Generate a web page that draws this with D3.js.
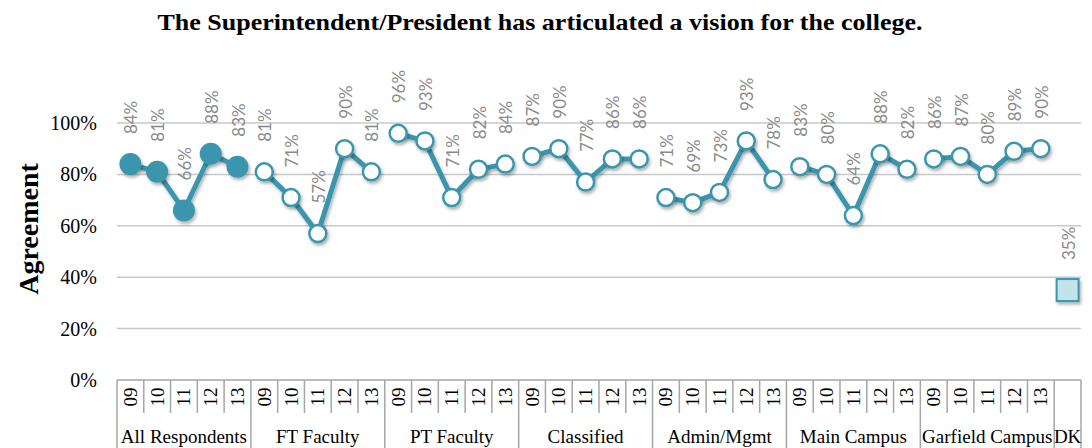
<!DOCTYPE html>
<html><head><meta charset="utf-8">
<script src="https://cdn.jsdelivr.net/npm/d3@7"></script>
<style>body{margin:0;background:#fff}svg{display:block}</style>
</head><body><svg id="c" width="1092" height="448"></svg>
<script>
const title = "The Superintendent/President has articulated a vision for the college.";
const groups = ["All Respondents","FT Faculty","PT Faculty","Classified","Admin/Mgmt","Main Campus","Garfield Campus"];
const years = ["09","10","11","12","13"];
const allRespondents = [84,81,66,88,83];
const ftFaculty = [81,71,57,90,81];
const ptFaculty = [96,93,71,82,84];
const classified = [87,90,77,86,86];
const adminMgmt = [71,69,73,93,78];
const mainCampus = [83,80,64,88,82];
const garfieldCampus = [86,87,80,89,90];
const dkLabel = "DK";
const dkValue = [35];
const yTicks = [0,20,40,60,80,100];

const series = [allRespondents, ftFaculty, ptFaculty, classified, adminMgmt, mainCampus, garfieldCampus];
const cats = [];
groups.forEach((g,gi)=>years.forEach((yr,yi)=>cats.push({g:gi,yr,v:series[gi][yi],i:cats.length})));
const dkIndex = cats.length;
const nCats = cats.length + 1;

const svg = d3.select("#c");
const L = 117, R = 1081, T = 123, B = 380;
const x = d3.scaleBand().domain(d3.range(nCats)).range([L,R]).padding(0);
const y = d3.scaleLinear().domain([0,100]).range([B,T]);
const teal = "#3a96ad", grid = "#c8c8c8", axisC = "#a6a6a6";
const serif = "Liberation Serif";

const defs = svg.append("defs");
const f = defs.append("filter").attr("id","sh").attr("x","-50%").attr("y","-50%").attr("width","200%").attr("height","200%");
f.append("feDropShadow").attr("dx",1.5).attr("dy",2.5).attr("stdDeviation",1.8).attr("flood-color","#000").attr("flood-opacity",0.3);

// title
svg.append("text").attr("x",540).attr("y",30).attr("text-anchor","middle")
  .attr("font-family",serif).attr("font-weight","bold").attr("font-size",23)
  .attr("textLength",765).attr("lengthAdjust","spacingAndGlyphs").text(title);

// gridlines
svg.append("g").selectAll("line").data(yTicks.filter(t=>t>0)).join("line")
  .attr("x1",L).attr("x2",R).attr("y1",d=>y(d)).attr("y2",d=>y(d))
  .attr("stroke",grid).attr("stroke-width",1.5);

// y axis labels
svg.append("g").selectAll("text").data(yTicks).join("text")
  .attr("x",97).attr("y",d=>y(d)+7).attr("text-anchor","end")
  .attr("font-family",serif).attr("font-size",20).attr("fill","#000")
  .text(d=>d+"%");

// y title
svg.append("text").attr("transform","translate(38,229) rotate(-90)").attr("text-anchor","middle")
  .attr("font-family",serif).attr("font-weight","bold").attr("font-size",28)
  .text("Agreement");

// category axis box
const ax = svg.append("g").attr("stroke",axisC).attr("stroke-width",1.5);
ax.append("line").attr("x1",L).attr("x2",R).attr("y1",B).attr("y2",B);
d3.range(nCats+1).forEach(i=>{
  const xx = i<nCats ? x(i) : R;
  const isGroup = (i%5===0) || i>=dkIndex;
  ax.append("line").attr("x1",xx).attr("x2",xx).attr("y1",B).attr("y2",isGroup?448:413);
});
// year labels
svg.append("g").selectAll("text").data(cats).join("text")
  .attr("transform",d=>`translate(${x(d.i)+x.bandwidth()/2+6.5},397) rotate(-90)`)
  .attr("text-anchor","middle").attr("font-family",serif).attr("font-size",19)
  .text(d=>d.yr);
// group labels
svg.append("g").selectAll("text").data(groups).join("text")
  .attr("x",(d,i)=>(x(i*5)+x(i*5+4)+x.bandwidth())/2).attr("y",443)
  .attr("text-anchor","middle").attr("font-family",serif).attr("font-size",19)
  .text(d=>d);
svg.append("text").attr("x",x(dkIndex)+x.bandwidth()/2).attr("y",443).attr("text-anchor","middle")
  .attr("font-family",serif).attr("font-size",19).text(dkLabel);

const cx = i => x(i)+x.bandwidth()/2;
// lines
const line = d3.line().x(d=>cx(d.i)).y(d=>y(d.v));
groups.forEach((g,gi)=>{
  svg.append("path").datum(cats.filter(c=>c.g===gi)).attr("d",line)
    .attr("fill","none").attr("stroke",teal).attr("stroke-width",5).attr("filter","url(#sh)");
});
// markers
svg.append("g").selectAll("circle").data(cats).join("circle")
  .attr("cx",d=>cx(d.i)).attr("cy",d=>y(d.v))
  .attr("r",d=>d.g===0?11:8.5)
  .attr("fill",d=>d.g===0?teal:"#fff").attr("stroke",teal).attr("stroke-width",d=>d.g===0?0:2.5)
  .attr("filter","url(#sh)");
// DK square
svg.append("rect").attr("x",cx(dkIndex)-11).attr("y",y(dkValue[0])-11).attr("width",22).attr("height",22)
  .attr("fill","#c3e3ec").attr("stroke",teal).attr("stroke-width",2).attr("filter","url(#sh)");

// data labels
const labs = cats.map(c=>({i:c.i,v:c.v})).concat([{i:dkIndex,v:dkValue[0]}]);
svg.append("g").selectAll("text").data(labs).join("text")
  .attr("transform",d=>`translate(${cx(d.i)+7},${y(d.v)-30}) rotate(-90)`)
  .attr("text-anchor","start").attr("font-family","Lato").attr("font-size",17).attr("fill","#8a8a8a")
  .text(d=>d.v+"%");
</script></body></html>
